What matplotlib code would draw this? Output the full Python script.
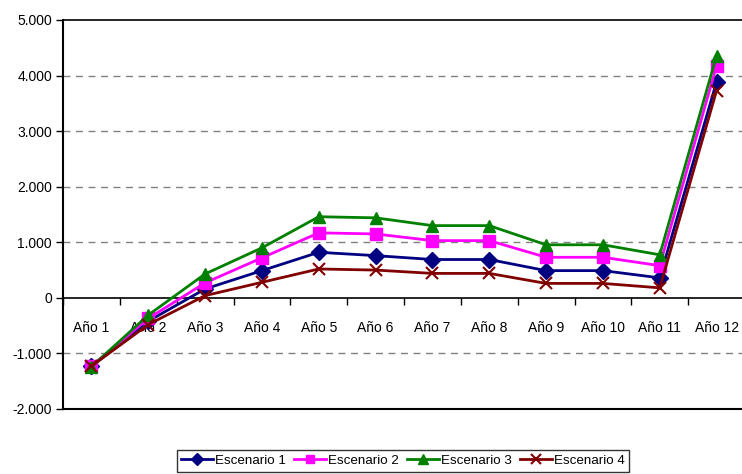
import matplotlib
matplotlib.use("Agg")
import matplotlib.pyplot as plt
from matplotlib.ticker import FuncFormatter, FixedLocator

plt.rcParams['font.family'] = ['Liberation Sans', 'DejaVu Sans']

categories = ["Año 1", "Año 2", "Año 3", "Año 4", "Año 5", "Año 6",
              "Año 7", "Año 8", "Año 9", "Año 10", "Año 11", "Año 12"]
escenario1 = [-1230, -420, 160, 490, 820, 760, 690, 690, 490, 490, 360, 3890]
escenario2 = [-1230, -370, 270, 720, 1170, 1150, 1030, 1030, 730, 730, 580, 4180]
escenario3 = [-1240, -310, 430, 900, 1460, 1440, 1300, 1300, 955, 955, 775, 4360]
escenario4 = [-1230, -480, 40, 280, 520, 500, 440, 440, 260, 260, 180, 3730]
series_names = ["Escenario 1", "Escenario 2", "Escenario 3", "Escenario 4"]
yticks = [-2000, -1000, 0, 1000, 2000, 3000, 4000, 5000]

fig = plt.figure(figsize=(7.42, 4.74), dpi=100)
ax = fig.add_axes([63/742, 65/474, 682/742, 389/474])

x = list(range(1, len(categories) + 1))
styles = [
    dict(color='#000080', marker='D', markersize=8),
    dict(color='#FF00FF', marker='s', markersize=8),
    dict(color='#008000', marker='^', markersize=9),
    dict(color='#800000', marker='x', markersize=9, markeredgewidth=1.5),
]
for vals, name, st in zip([escenario1, escenario2, escenario3, escenario4], series_names, styles):
    ax.plot(x, vals, lw=2, label=name, zorder=3, **st)

ax.set_xlim(0.5, 12.5)
ax.set_ylim(-2000, 5000)

# gridlines
for v in [-1000, 1000, 2000, 3000, 4000]:
    ax.axhline(v, color='#808080', lw=1, ls=(0, (5, 4)), zorder=1)
ax.axhline(-2000, color='black', lw=1.5, zorder=2, clip_on=False)

ax.spines['right'].set_visible(False)
ax.spines['top'].set_linewidth(1.2)
ax.spines['left'].set_linewidth(1.5)
ax.spines['bottom'].set_position(('data', 0))
ax.spines['bottom'].set_linewidth(1.2)

ax.set_yticks(yticks)
ax.yaxis.set_major_formatter(FuncFormatter(lambda v, p: f"{int(v):,}".replace(",", ".")))
ax.tick_params(axis='y', direction='out', length=5, width=1, labelsize=10, pad=3)

ax.set_xticks(x)
ax.set_xticklabels(categories)
ax.xaxis.set_minor_locator(FixedLocator([i + 0.5 for i in range(0, 12)]))
ax.tick_params(axis='x', which='major', length=0, labelsize=10, pad=17)
ax.tick_params(axis='x', which='minor', direction='out', length=5, width=1)

leg = ax.legend(loc='upper center', bbox_to_anchor=(403/742, 1 - 450/474),
                bbox_transform=fig.transFigure, ncol=4, fontsize=9.6,
                frameon=True, fancybox=False, edgecolor='black',
                handlelength=2.4, columnspacing=0.6, handletextpad=0.15,
                borderpad=0.35, borderaxespad=0, markerscale=0.75)
leg.get_frame().set_linewidth(1)

fig.savefig("out.png", dpi=100)
